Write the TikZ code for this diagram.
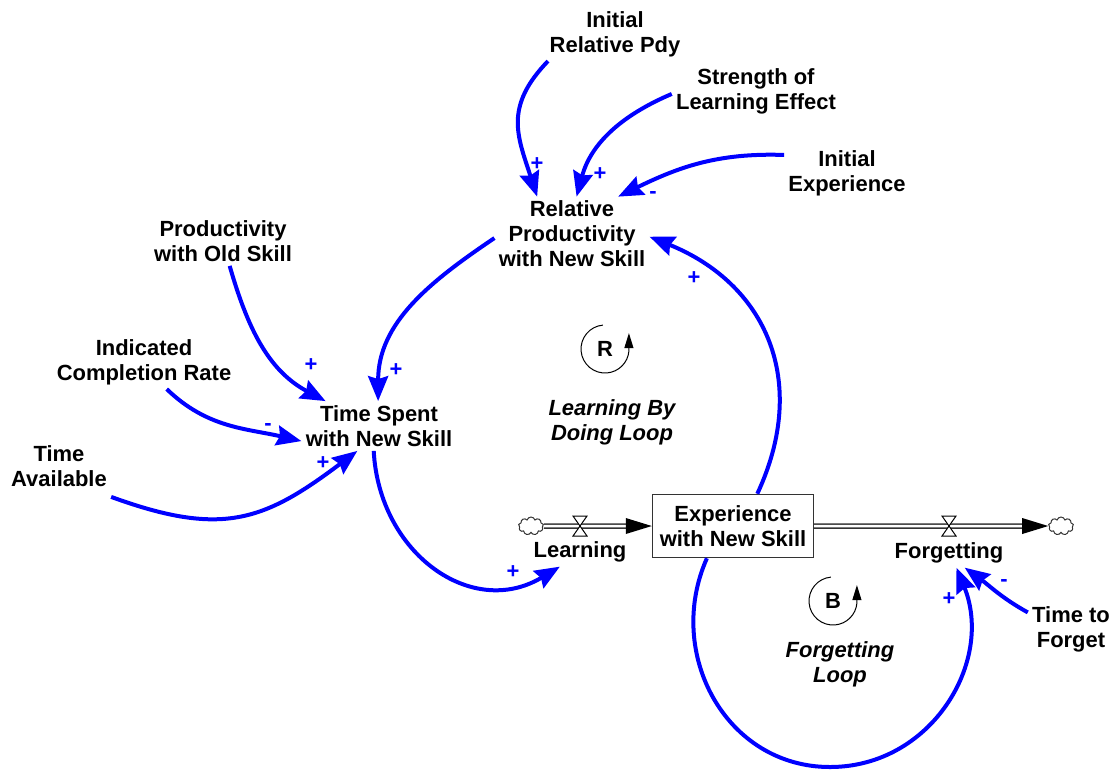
\documentclass[tikz,border=0pt]{standalone}
\usepackage{fontspec}
\setmainfont{Liberation Sans}
\usetikzlibrary{arrows.meta,shapes.symbols}
\definecolor{linkblue}{RGB}{0,0,255}

\begin{document}
\begin{tikzpicture}[x=0.02cm,y=0.02cm]

    \tikzset{
      var/.style={
        align=center,
        inner sep=0.08cm,
        font=\bfseries\fontsize{12.5}{14.2}\selectfont,
      },
      looptext/.style={
        align=center,
        inner sep=0.08cm,
        font=\bfseries\itshape\fontsize{12.5}{14.2}\selectfont,
      },
      stock/.style={
        var,
        draw=black!80,
        line width=0.03cm,
        minimum width=3.22cm,
        minimum height=1.26cm,
      },
      cloudy/.style={
        cloud,
        cloud puffs=9,
        aspect=1.4,
        draw=black!80,
        line width=0.02cm,
        inner sep=0pt,
        minimum width=0.5cm,
        minimum height=0.36cm,
      },
      causal/.style={
        draw=linkblue,
        line width=0.08cm,
        -{Stealth[length=0.5cm,width=0.4cm,inset=0.06cm]},
      },
      pol/.style={
        text=linkblue,
        inner sep=0pt,
        font=\bfseries\fontsize{12.5}{14.2}\selectfont,
      },
      pipe/.style={
        draw=black!80,
        double,
        double distance=0.05cm,
        line width=0.03cm,
      },
      valve/.pic={
        \filldraw[fill=white,draw=black,line width=0.02cm] (-7,10)--(7,10)--(-7,-10)--(7,-10)--cycle;
      },
      loopmark/.style={
        line width=0.02cm,
        -{Triangle[length=0.3cm,width=0.18cm]},
      },
    }
    \useasboundingbox (0,0) rectangle (1115,-769);

	\node[var] (initpdy) at (615,-34) {Initial\\Relative Pdy};
	\node[var] (strength) at (756,-91) {Strength of\\Learning Effect};
	\node[var] (initexp) at (847,-173) {Initial\\Experience};
	\node[var] (relprod) at (572,-234) {Relative\\Productivity\\with New Skill};
	\node[var] (oldskill) at (223,-241) {Productivity\\with Old Skill};
	\node[var] (complrate) at (144,-362) {Indicated\\Completion Rate};
	\node[var] (timespent) at (379,-426) {Time Spent\\with New Skill};
	\node[var] (timeavail) at (59,-466) {Time\\Available};
	\node[var] (timeforget) at (1071,-629) {Time to\\Forget};
	\node[stock] (experience) at (733,-526) {Experience\\with New Skill};
	\node[cloudy] (cloudin) at (531,-526) {};
	\node[cloudy] (cloudout) at (1061,-526) {};
	\node[var] (learning) at (580,-552) {Learning};
	\node[var] (forgetting) at (949,-553) {Forgetting};
	\node[looptext] (doingloop) at (612,-422) {Learning By\\Doing Loop};
	\node[looptext] (forgetloop) at (840,-664) {Forgetting\\Loop};
	\coordinate (loopbottom) at (830,-767);

	\draw[pipe] (cloudin.east)--([xshift=-0.4cm]experience.west);
	\fill[black] (experience.west)--++(-26,8)--++(0,-16)--cycle;
	\draw[pipe] (experience.east)--([xshift=-0.4cm]cloudout.west);
	\fill[black] (cloudout.west)--++(-26,8)--++(0,-16)--cycle;
	\pic at (580,-526) {valve};
	\pic at (949,-526) {valve};

	\draw[causal] (initpdy.202) to[out=226,in=108,looseness=1.2] (relprod.133);
	\draw[causal] (strength.182) to[out=203,in=75] (relprod.83);
	\draw[causal] (initexp.164) to[out=178,in=26] (relprod.39);
	\draw[causal] (experience.53) to[out=65,in=-22,looseness=1.15] (relprod.358);
	\draw[causal] (relprod.183) to[out=214,in=90] (timespent.92);
	\draw[causal] (oldskill.285) to[out=286,in=152] (timespent.155);
	\draw[causal] (complrate.310) to[out=316,in=167] (timespent.191);
	\draw[causal] ([yshift=-0.12cm]timeavail.south east) to[out=340,in=217,looseness=1.2] (timespent.229);
	\draw[causal] (timespent.258) to[out=273,in=211,looseness=1.2] (learning.216);
	\draw[causal] (experience.231) to[out=246,in=180,looseness=1.1] (loopbottom) to[out=0,in=292,looseness=1.1] (forgetting.297);
	\draw[causal] (timeforget.159) to[out=151,in=324] (forgetting.317);

	\node[pol] (s1) at (537,-164) {+};
	\node[pol] (s2) at (600,-174) {+};
	\node[pol] (s3) at (653,-195) {-};
	\node[pol] (s4) at (694,-278) {+};
	\node[pol] (s5) at (311,-365) {+};
	\node[pol] (s6) at (396,-370) {+};
	\node[pol] (s7) at (268,-427) {-};
	\node[pol] (s8) at (323,-463) {+};
	\node[pol] (s9) at (513,-572) {+};
	\node[pol] (s10) at (949,-599) {+};
	\node[pol] (s11) at (1004,-583) {-};

	\node[var] (rmark) at (605,-349) {R};
	\draw[loopmark] (605,-349) ++(95:24) arc[start angle=95,end angle=355,radius=24]--++(0,18);
	\node[var] (bmark) at (833,-601) {B};
	\draw[loopmark] (833,-601) ++(95:24) arc[start angle=95,end angle=355,radius=24]--++(0,18);

\end{tikzpicture}
\end{document}
